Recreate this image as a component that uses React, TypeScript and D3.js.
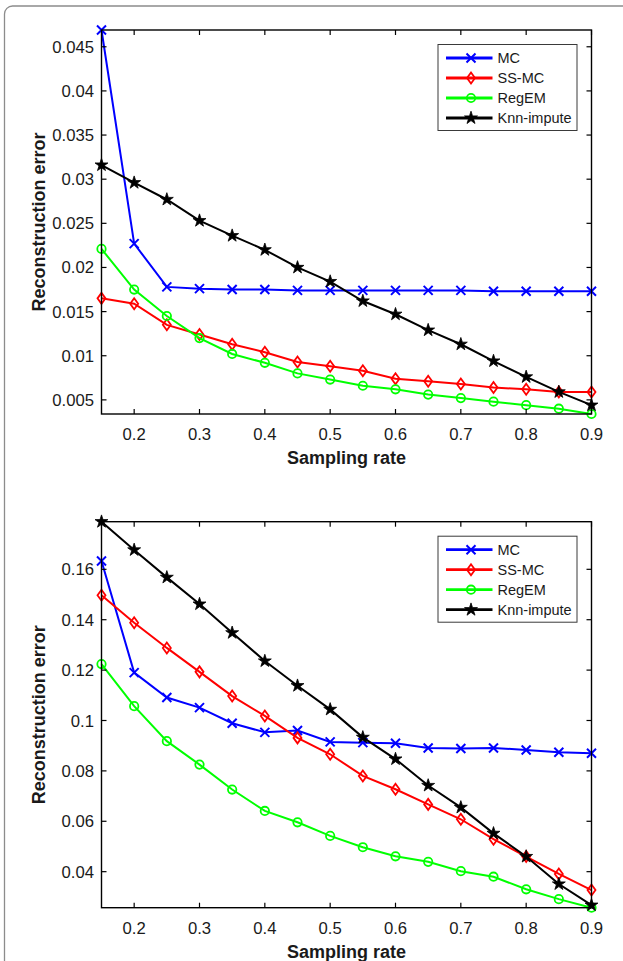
import * as d3 from "d3";

// sampling rates on the x axis
const rates = [0.15, 0.2, 0.25, 0.3, 0.35, 0.4, 0.45, 0.5, 0.55, 0.6, 0.65, 0.7, 0.75, 0.8, 0.85, 0.9];
const xTicks = [0.2, 0.3, 0.4, 0.5, 0.6, 0.7, 0.8, 0.9];

// top panel
const mcTop = [0.0469, 0.0227, 0.0178, 0.0176, 0.0175, 0.0175, 0.0174, 0.0174, 0.0174, 0.0174, 0.0174, 0.0174, 0.0173, 0.0173, 0.0173, 0.0173];
const ssmcTop = [0.0165, 0.0159, 0.0135, 0.0124, 0.0113, 0.0104, 0.0093, 0.0088, 0.0083, 0.0074, 0.0071, 0.0068, 0.0064, 0.0062, 0.0059, 0.0059];
const regemTop = [0.0221, 0.0175, 0.0145, 0.012, 0.0102, 0.0092, 0.008, 0.0073, 0.0066, 0.0062, 0.0056, 0.0052, 0.0048, 0.0044, 0.004, 0.0034];
const knnTop = [0.0316, 0.0296, 0.0277, 0.0253, 0.0236, 0.022, 0.02, 0.0184, 0.0162, 0.0147, 0.0129, 0.0113, 0.0094, 0.0076, 0.0059, 0.0044];
const yTicksTop = [0.005, 0.01, 0.015, 0.02, 0.025, 0.03, 0.035, 0.04, 0.045];

// bottom panel
const mcBot = [0.1633, 0.119, 0.1091, 0.1051, 0.0989, 0.0953, 0.096, 0.0915, 0.0912, 0.091, 0.0891, 0.0889, 0.0891, 0.0883, 0.0874, 0.087];
const ssmcBot = [0.1497, 0.1388, 0.1288, 0.1193, 0.1097, 0.1018, 0.0931, 0.0866, 0.078, 0.0727, 0.0667, 0.0608, 0.0529, 0.046, 0.0391, 0.0327];
const regemBot = [0.1224, 0.1057, 0.0918, 0.0825, 0.0726, 0.0641, 0.0596, 0.0542, 0.0497, 0.0461, 0.0439, 0.0402, 0.038, 0.033, 0.0291, 0.0257];
const knnBot = [0.1789, 0.1677, 0.1568, 0.1462, 0.1348, 0.1236, 0.1138, 0.1044, 0.0933, 0.0847, 0.0742, 0.0655, 0.0552, 0.046, 0.0351, 0.0267];
const yTicksBot = [0.04, 0.06, 0.08, 0.1, 0.12, 0.14, 0.16];

const names = ["MC", "SS-MC", "RegEM", "Knn-impute"];
const colors = ["#0000ff", "#ff0000", "#00ff00", "#000000"];
const markers = ["x", "d", "o", "star"];

const FONT = "'Liberation Sans', Arial, Helvetica, sans-serif";

function Marker({ kind, x, y, color }: { kind: string; x: number; y: number; color: string }) {
  if (kind === "x") {
    const s = 4.5;
    return (
      <path d={`M${x - s},${y - s}L${x + s},${y + s}M${x - s},${y + s}L${x + s},${y - s}`} stroke={color} strokeWidth={2} fill="none" />
    );
  }
  if (kind === "d") {
    return (
      <path d={`M${x},${y - 5.5}L${x + 4},${y}L${x},${y + 5.5}L${x - 4},${y}Z`} stroke={color} strokeWidth={1.8} fill="none" />
    );
  }
  if (kind === "o") {
    return <circle cx={x} cy={y} r={4.2} stroke={color} strokeWidth={1.8} fill="none" />;
  }
  const star = d3.symbol().type(d3.symbolStar).size(52)();
  return <path d={star || ""} transform={`translate(${x},${y})`} fill={color} stroke={color} strokeWidth={0.8} />;
}

function Panel({ series, yTicks, top, bottom }: { series: number[][]; yTicks: number[]; top: number; bottom: number }) {
  const left = 101.5;
  const right = 591.5;
  const all = series.flat();
  const x = d3.scaleLinear().domain([rates[0], rates[rates.length - 1]]).range([left, right]);
  const y = d3.scaleLinear().domain(d3.extent(all) as [number, number]).range([bottom, top]);
  const line = d3.line<number>().x((d, i) => x(rates[i])).y((d) => y(d));
  const fmt = (v: number) => String(+v.toFixed(4));
  const tl = 5;

  const lx = right - 14.5 - 139;
  const ly = top + 14.5;

  return (
    <g fontFamily={FONT}>
      {series.map((s, k) => (
        <g key={k}>
          <path d={line(s) || ""} fill="none" stroke={colors[k]} strokeWidth={2} />
          {s.map((v, i) => (
            <Marker key={i} kind={markers[k]} x={x(rates[i])} y={y(v)} color={colors[k]} />
          ))}
        </g>
      ))}
      <rect x={left} y={top} width={right - left} height={bottom - top} fill="none" stroke="#000" strokeWidth={1.4} />
      {xTicks.map((t) => (
        <g key={t}>
          <line x1={x(t)} x2={x(t)} y1={bottom} y2={bottom - tl} stroke="#000" strokeWidth={1.2} />
          <line x1={x(t)} x2={x(t)} y1={top} y2={top + tl} stroke="#000" strokeWidth={1.2} />
          <text x={x(t)} y={bottom + 26} textAnchor="middle" fontSize={16.7} fill="#1a1a1a">
            {fmt(t)}
          </text>
        </g>
      ))}
      {yTicks.map((t) => (
        <g key={t}>
          <line x1={left} x2={left + tl} y1={y(t)} y2={y(t)} stroke="#000" strokeWidth={1.2} />
          <line x1={right} x2={right - tl} y1={y(t)} y2={y(t)} stroke="#000" strokeWidth={1.2} />
          <text x={left - 7.5} y={y(t)} dy="0.36em" textAnchor="end" fontSize={16.7} fill="#1a1a1a">
            {fmt(t)}
          </text>
        </g>
      ))}
      <text x={(left + right) / 2} y={bottom + 50} textAnchor="middle" fontSize={18} fontWeight="bold" fill="#1a1a1a">
        Sampling rate
      </text>
      <text
        transform={`translate(45,${(top + bottom) / 2}) rotate(-90)`}
        textAnchor="middle"
        fontSize={18}
        fontWeight="bold"
        fill="#1a1a1a"
      >
        Reconstruction error
      </text>
      <rect x={lx} y={ly} width={139} height={86} fill="#fff" stroke="#3a3a3a" strokeWidth={1} />
      {names.map((n, k) => {
        const ey = ly + 13.5 + k * 20;
        return (
          <g key={n}>
            <line x1={lx + 8} x2={lx + 54.5} y1={ey} y2={ey} stroke={colors[k]} strokeWidth={2.8} />
            <Marker kind={markers[k]} x={lx + 33} y={ey} color={colors[k]} />
            <text x={lx + 59.5} y={ey} dy="0.36em" fontSize={14.5} fill="#1a1a1a">
              {n}
            </text>
          </g>
        );
      })}
    </g>
  );
}

export default function App() {
  return (
    <svg width={623} height={961} style={{ position: "absolute", left: 0, top: 0, background: "#fff" }}>
      <rect x={0} y={0} width={623} height={961} fill="#fff" />
      <rect x={4.5} y={6} width={700} height={1000} rx={8} fill="none" stroke="#8c8c8c" strokeWidth={1.3} />
      <Panel series={[mcTop, ssmcTop, regemTop, knnTop]} yTicks={yTicksTop} top={30} bottom={414} />
      <Panel series={[mcBot, ssmcBot, regemBot, knnBot]} yTicks={yTicksBot} top={521.7} bottom={907.7} />
    </svg>
  );
}
